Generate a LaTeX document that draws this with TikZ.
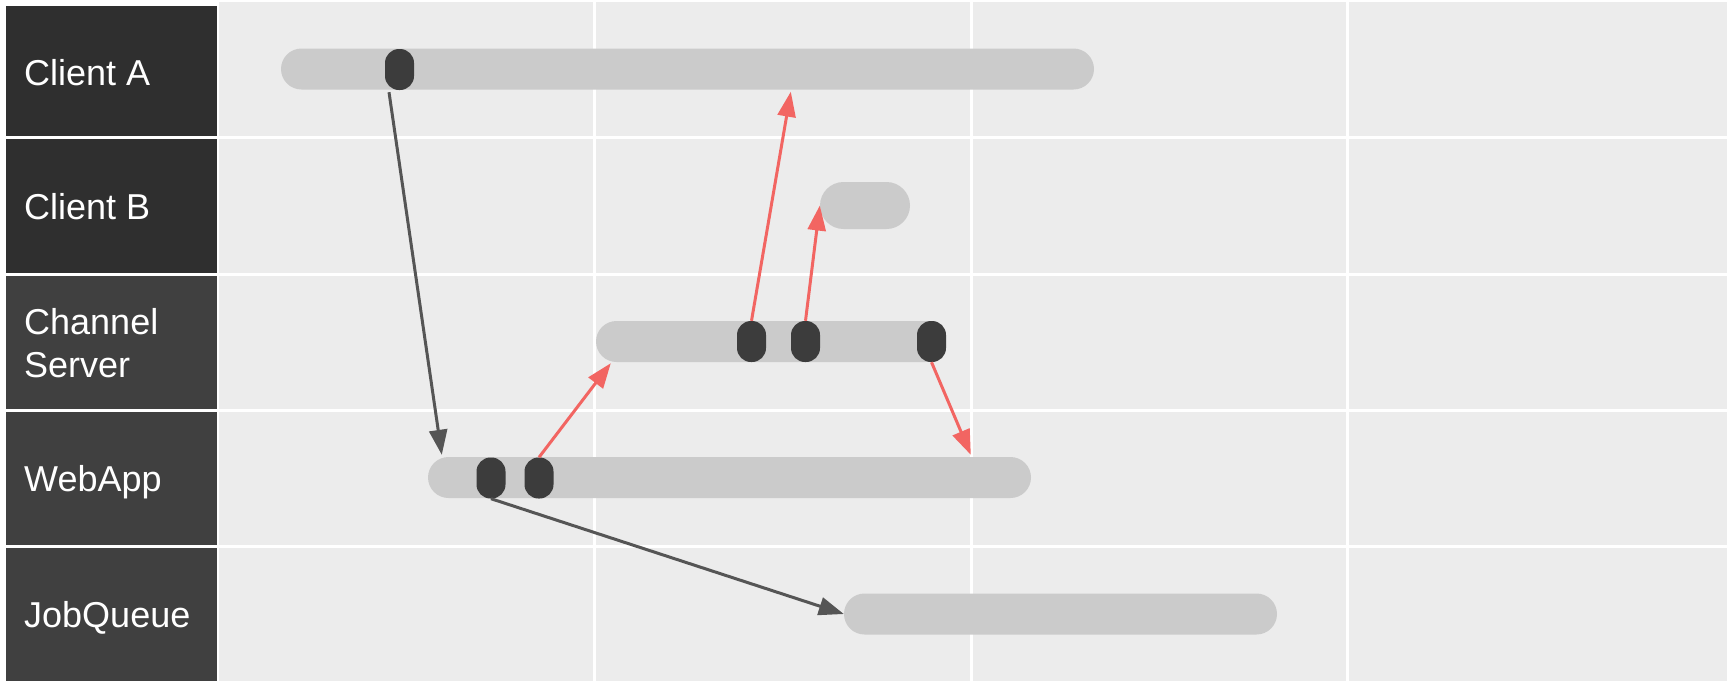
\documentclass[tikz,border=0pt]{standalone}
\usepackage{fontspec}
\setmainfont{Liberation Sans}
\usetikzlibrary{arrows.meta,calc}
\definecolor{cellbg}{HTML}{ECECEC}
\definecolor{labdarkA}{HTML}{2F2F2F}
\definecolor{labdarkB}{HTML}{404040}
\definecolor{barcol}{HTML}{CBCBCB}
\definecolor{markcol}{HTML}{3C3C3C}
\definecolor{redarrow}{HTML}{F26562}
\definecolor{grayarrow}{HTML}{555555}
\begin{document}
\begin{tikzpicture}[x=1pt,y=-1pt,
  labbox/.style={rectangle, inner sep=0pt, minimum width=211pt},
  labtext/.style={anchor=base west, text=white, inner sep=0pt, align=left, font=\fontsize{36}{43}\selectfont},
  bar/.style={rectangle, rounded corners=20.5pt, fill=barcol, inner sep=0pt, minimum height=41pt},
  marker/.style={rectangle, rounded corners=14pt, fill=markcol, inner sep=0pt, minimum width=29pt, minimum height=41pt},
  redarr/.style={draw=redarrow, line width=3pt, -{Triangle[length=25pt,width=18pt]}},
  grayarr/.style={draw=grayarrow, line width=3pt, -{Triangle[length=25pt,width=18pt]}}
]
\useasboundingbox (0,0) rectangle (1729,681);
\fill[white] (0,0) rectangle (1729,681);
\fill[cellbg] (219,2) rectangle (1727,681);
\foreach \x in {594.5,971.5,1347.5} \draw[white,line width=3pt] (\x,0) -- (\x,681);
\foreach \y in {137.5,274.5,410.5,546.5} \draw[white,line width=3pt] (219,\y) -- (1729,\y);

% label boxes
\node[labbox, fill=labdarkA, minimum height=130pt] (boxA) at (111.5,71) {};
\node[labbox, fill=labdarkA, minimum height=134pt] (boxB) at (111.5,206) {};
\node[labbox, fill=labdarkB, minimum height=133pt] (boxC) at (111.5,342.5) {};
\node[labbox, fill=labdarkB, minimum height=133pt] (boxW) at (111.5,478.5) {};
\node[labbox, fill=labdarkB, minimum height=133pt] (boxJ) at (111.5,614.5) {};
\node[labtext] (tA) at (24,85) {Client A};
\node[labtext] (tB) at (24,219) {Client B};
\node[labtext] (tC) at (24,377) {Channel\\Server};
\node[labtext] (tW) at (24,491) {WebApp};
\node[labtext] (tJ) at (24,627) {JobQueue};

% bars
\node[bar, minimum width=813pt] (barA) at (687.5,69) {};
\node[bar, minimum width=90pt, minimum height=47pt, rounded corners=23.5pt] (barB) at (865,205.5) {};
\node[bar, minimum width=350pt] (barC) at (771,341.5) {};
\node[bar, minimum width=603pt] (barW) at (729.5,477.5) {};
\node[bar, minimum width=433pt] (barJ) at (1060.5,614) {};

% markers
\node[marker] (mA) at (399.5,69.5) {};
\node[marker] (mC1) at (751.5,341.5) {};
\node[marker] (mC2) at (805.5,341.5) {};
\node[marker] (mC3) at (931.5,341.5) {};
\node[marker] (mW1) at (491,478) {};
\node[marker] (mW2) at (539,478) {};

% connector end points
\coordinate (s1) at ($(mA.south)+(-10.5,2)$);
\coordinate (e1) at ($(barW.north west)+(14,-2)$);
\coordinate (e2) at ($(barC.south west)+(15,1)$);
\coordinate (e3) at ($(barA.south west)+(510,2)$);
\coordinate (e5) at ($(barW.north west)+(543,-2)$);

\draw[grayarr] (s1) -- (e1);
\draw[redarr] (mW2.north) -- (e2);
\draw[redarr] (mC1.north) -- (e3);
\draw[redarr] (mC2.north) -- (barB.west);
\draw[redarr] (mC3.south) -- (e5);
\draw[grayarr] (mW1.south) -- (barJ.west);
\end{tikzpicture}
\end{document}
